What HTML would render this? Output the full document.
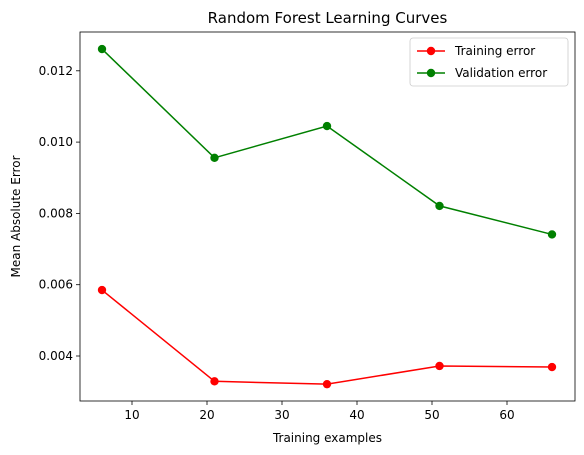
<!DOCTYPE html>
<html><head><meta charset="utf-8"><style>
body{margin:0;background:#fff;}
svg{display:block;font-family:"DejaVu Sans","Liberation Sans",sans-serif;}
</style></head><body>
<svg id="chart" width="584" height="455" xmlns="http://www.w3.org/2000/svg"></svg>
<script>
const xValues=[6,21,36,51,66];
const trainingError=[0.00585,0.00329,0.00321,0.00372,0.00369];
const validationError=[0.01261,0.00956,0.01045,0.00821,0.00741];
const xTicks=[10,20,30,40,50,60];
const yTicks=[0.004,0.006,0.008,0.010,0.012];
const yTickLabels=["0.004","0.006","0.008","0.010","0.012"];

const L=80,R=575,T=32,B=401;
function sx(v){return 132+(v-10)*7.5;}
function sy(v){return 356-(v-0.004)*35650;}
const svg=document.getElementById('chart');
const NS='http://www.w3.org/2000/svg';
function mk(tag,attrs,parent){const e=document.createElementNS(NS,tag);for(const k in attrs)e.setAttribute(k,attrs[k]);(parent||svg).appendChild(e);return e;}

let t=mk('text',{x:(L+R)/2,y:23,'text-anchor':'middle','font-size':15,fill:'#000'});


t.textContent='Random Forest Learning Curves';

xTicks.forEach(v=>{
  const l=mk('line',{x1:sx(v),x2:sx(v),y1:B,y2:B+4,stroke:'#000','stroke-width':0.8});
  
  
  const tx=mk('text',{x:sx(v),y:B+18,'text-anchor':'middle','font-size':12,fill:'#000'});
  
  
  tx.textContent=v;
});
yTicks.forEach((v,i)=>{
  const l=mk('line',{x1:L-4,x2:L,y1:sy(v),y2:sy(v),stroke:'#000','stroke-width':0.8});
  
  
  const tx=mk('text',{x:L-7,y:sy(v)+4,'text-anchor':'end','font-size':12,fill:'#000'});
  
  
  tx.textContent=yTickLabels[i];
});
t=mk('text',{x:(L+R)/2,y:442,'text-anchor':'middle','font-size':12,fill:'#000'});


t.textContent='Training examples';
t=mk('text',{x:0,y:0,transform:`translate(20,${(T+B)/2}) rotate(-90)`,'text-anchor':'middle','font-size':12,fill:'#000'});


t.textContent='Mean Absolute Error';

function series(vals,color,name){
  const g=mk('g',{});
  
  
  const p=mk('polyline',{points:vals.map((v,i)=>sx(xValues[i])+','+sy(v)).join(' '),fill:'none',stroke:color,'stroke-width':1.5},g);
  
  
  vals.forEach((v,i)=>{
    const c=mk('circle',{cx:sx(xValues[i]),cy:sy(v),r:4.2,fill:color},g);
    
    
  });
}
series(trainingError,'#ff0000','training-error');
series(validationError,'#008000','validation-error');

const frame=mk('rect',{x:L,y:T,width:R-L,height:B-T,fill:'none',stroke:'#000','stroke-width':0.8});



const lg=mk('g',{});


mk('rect',{x:410,y:38,width:158,height:48,rx:3,fill:'#fff',stroke:'#ccc','stroke-width':0.8},lg);
[['Training error','#ff0000',51],['Validation error','#008000',73]].forEach(([lab,col,y])=>{
  const e=mk('g',{},lg);
  
  
  mk('line',{x1:417,x2:445,y1:y,y2:y,stroke:col,'stroke-width':1.5},e);
  mk('circle',{cx:431,cy:y,r:4.2,fill:col},e);
  const tx=mk('text',{x:455,y:y+4,'font-size':12,fill:'#000'},e);
  tx.textContent=lab;
});
</script>
</body></html>
